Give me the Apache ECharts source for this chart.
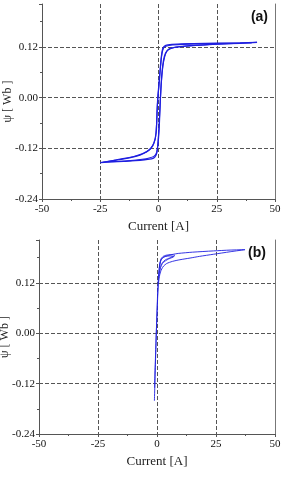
<!DOCTYPE html>
<html>
<head>
<meta charset="utf-8">
<script src="https://cdn.jsdelivr.net/npm/echarts@6/dist/echarts.min.js"></script>
<style>
  html, body { margin: 0; padding: 0; background: #fff; }
  #main { width: 281px; height: 477px; }
</style>
</head>
<body>
<div id="main"></div>
<script>
// ticks
var xTicks = [-50, -25, 0, 25, 50];
var yTicks = [-0.24, -0.12, 0.00, 0.12];

// (a) loop 1 : rising branch then falling branch
var a1I = [-25, -20, -15, -10, -6, -3, -1.5, -0.6, 0.2, 0.6, 1.0, 1.5, 2.2, 3.0, 4.2, 6, 9.2, 15, 25, 35, 42.3,
           35, 25, 15, 8, 4, 2.5, 1.8, 1.2, 0.6, 0, -0.3, -0.6, -1.0, -2.0, -3, -5, -8, -12, -18, -25];
var a1P = [-0.154, -0.152, -0.151, -0.149, -0.147, -0.145, -0.140, -0.128, -0.08, -0.03, 0.02, 0.06, 0.09, 0.105, 0.114, 0.118, 0.121, 0.124, 0.127, 0.129, 0.131,
           0.130, 0.129, 0.128, 0.127, 0.125, 0.122, 0.116, 0.096, 0.06, 0.02, 0.0, -0.03, -0.083, -0.108, -0.118, -0.128, -0.136, -0.142, -0.148, -0.154];

// (a) loop 2 : slightly smaller loop
var a2I = [-24, -18, -12, -7, -4, -2, -0.9, -0.2, 0.4, 0.8, 1.3, 1.9, 2.7, 3.6, 5, 8, 12, 20, 30, 40,
           30, 20, 12, 6, 3.2, 2.2, 1.5, 0.9, 0.3, -0.2, -0.5, -0.8, -1.4, -2.5, -4, -7, -11, -17, -24];
var a2P = [-0.153, -0.151, -0.149, -0.146, -0.143, -0.139, -0.131, -0.105, -0.05, -0.005, 0.04, 0.075, 0.098, 0.11, 0.116, 0.120, 0.122, 0.125, 0.128, 0.130,
           0.129, 0.128, 0.127, 0.125, 0.122, 0.118, 0.105, 0.075, 0.035, 0.005, -0.02, -0.06, -0.098, -0.113, -0.124, -0.133, -0.140, -0.146, -0.153];

// (b) main loop
var b1I = [-1.1, -0.9, -0.6, -0.3, 0.1, 0.5, 1.0, 1.5, 2.0, 2.8, 4.1, 6.5, 9.7, 14, 18, 23.9, 31, 37.3,
           31, 23.9, 15, 9, 6.9, 4.5, 2.7, 1.8, 1.2, 0.7, 0.3, 0.0, -0.3, -0.6, -0.9, -1.0];
var b1P = [-0.161, -0.12, -0.06, 0.0, 0.06, 0.11, 0.135, 0.146, 0.153, 0.160, 0.166, 0.171, 0.175, 0.179, 0.183, 0.188, 0.194, 0.199,
           0.198, 0.196, 0.193, 0.190, 0.188, 0.185, 0.181, 0.176, 0.166, 0.14, 0.10, 0.05, 0.0, -0.05, -0.10, -0.13];

// (b) minor loops
var b2I = [0.5, 0.9, 1.5, 2.3, 3.5, 5, 7, 5.5, 3.8, 2.5, 1.7, 1.1, 0.7];
var b2P = [0.12, 0.14, 0.156, 0.166, 0.172, 0.177, 0.182, 0.184, 0.183, 0.180, 0.174, 0.16, 0.135];
var b3I = [1.0, 1.6, 2.4, 3.6, 5.2, 7.6, 6, 4, 2.6, 1.6, 1.0];
var b3P = [0.145, 0.160, 0.169, 0.175, 0.179, 0.185, 0.187, 0.186, 0.183, 0.176, 0.155];

function pairs(xs, ys) {
  var out = [];
  for (var i = 0; i < xs.length; i++) out.push([xs[i], ys[i]]);
  return out;
}

var serif = '"Liberation Serif", "DejaVu Serif", serif';
var axisCol = '#555';

function xAx(gi) {
  return {
    type: 'value', gridIndex: gi, min: xTicks[0], max: xTicks[xTicks.length - 1], interval: 25,
    name: 'Current [A]', nameLocation: 'middle', nameGap: 21, nameMoveOverlap: false,
    nameTextStyle: { fontFamily: serif, fontSize: 13, color: '#222' },
    axisLine: { onZero: false, lineStyle: { color: axisCol, width: 1 } },
    axisTick: { show: true, length: 3, lineStyle: { color: axisCol } },
    minorTick: { show: true, splitNumber: 2, length: 2, lineStyle: { color: axisCol } },
    axisLabel: { fontFamily: serif, fontSize: 11, color: '#111', margin: 5 },
    splitLine: { show: true, showMinLine: false, lineStyle: { color: '#555', type: [4, 2], width: 1 } }
  };
}
function yAx(gi) {
  return {
    type: 'value', gridIndex: gi, min: yTicks[0], max: 0.222, interval: 0.12,
    name: 'ψ [ Wb ]', nameLocation: 'middle', nameGap: 28, nameRotate: 90, nameMoveOverlap: false,
    nameTextStyle: { fontFamily: serif, fontSize: 12, color: '#222' },
    axisLine: { show: true, onZero: false, lineStyle: { color: axisCol, width: 1 } },
    axisTick: { show: true, length: 3, lineStyle: { color: axisCol } },
    minorTick: { show: true, splitNumber: 2, length: 2, lineStyle: { color: axisCol } },
    axisLabel: {
      fontFamily: serif, fontSize: 11, color: '#111', margin: 4, showMaxLabel: false,
      formatter: function (v) { return v.toFixed(2); }
    },
    splitLine: { show: true, showMinLine: false, showMaxLine: false, lineStyle: { color: '#555', type: [4, 2], width: 1 } }
  };
}
function frameAx(gi) {
  return {
    type: 'value', gridIndex: gi, position: 'right', min: 0, max: 1,
    axisLine: { show: true, onZero: false, lineStyle: { color: '#777', width: 1 } },
    axisTick: { show: false }, axisLabel: { show: false }, splitLine: { show: false }
  };
}
function curve(xi, yi, data, w) {
  return {
    type: 'line', xAxisIndex: xi, yAxisIndex: yi, data: data,
    showSymbol: false, smooth: 0.25, silent: true,
    lineStyle: { color: '#1f1fe0', width: w }
  };
}

var chart = echarts.init(document.getElementById('main'), null, { renderer: 'canvas' });
chart.setOption({
  backgroundColor: '#ffffff',
  animation: false,
  title: [
    { text: '(a)', right: 8, top: 5, textStyle: { fontFamily: '"Liberation Sans", Arial, sans-serif', fontSize: 14, fontWeight: 'bold', color: '#111' } },
    { text: '(b)', right: 10, top: 241, textStyle: { fontFamily: '"Liberation Sans", Arial, sans-serif', fontSize: 14, fontWeight: 'bold', color: '#111' } }
  ],
  grid: [
    { left: 42, right: 6, top: 4, height: 195, outerBoundsMode: 'none', containLabel: false },
    { left: 39, right: 6, top: 240, height: 194, outerBoundsMode: 'none', containLabel: false }
  ],
  xAxis: [xAx(0), xAx(1)],
  yAxis: [yAx(0), frameAx(0), yAx(1), frameAx(1)],
  series: [
    curve(0, 0, pairs(a1I, a1P), 1.3),
    curve(0, 0, pairs(a2I, a2P), 1.1),
    curve(1, 2, pairs(b1I, b1P), 0.9),
    curve(1, 2, pairs(b2I, b2P), 0.8),
    curve(1, 2, pairs(b3I, b3P), 0.8)
  ]
});
</script>
</body>
</html>
